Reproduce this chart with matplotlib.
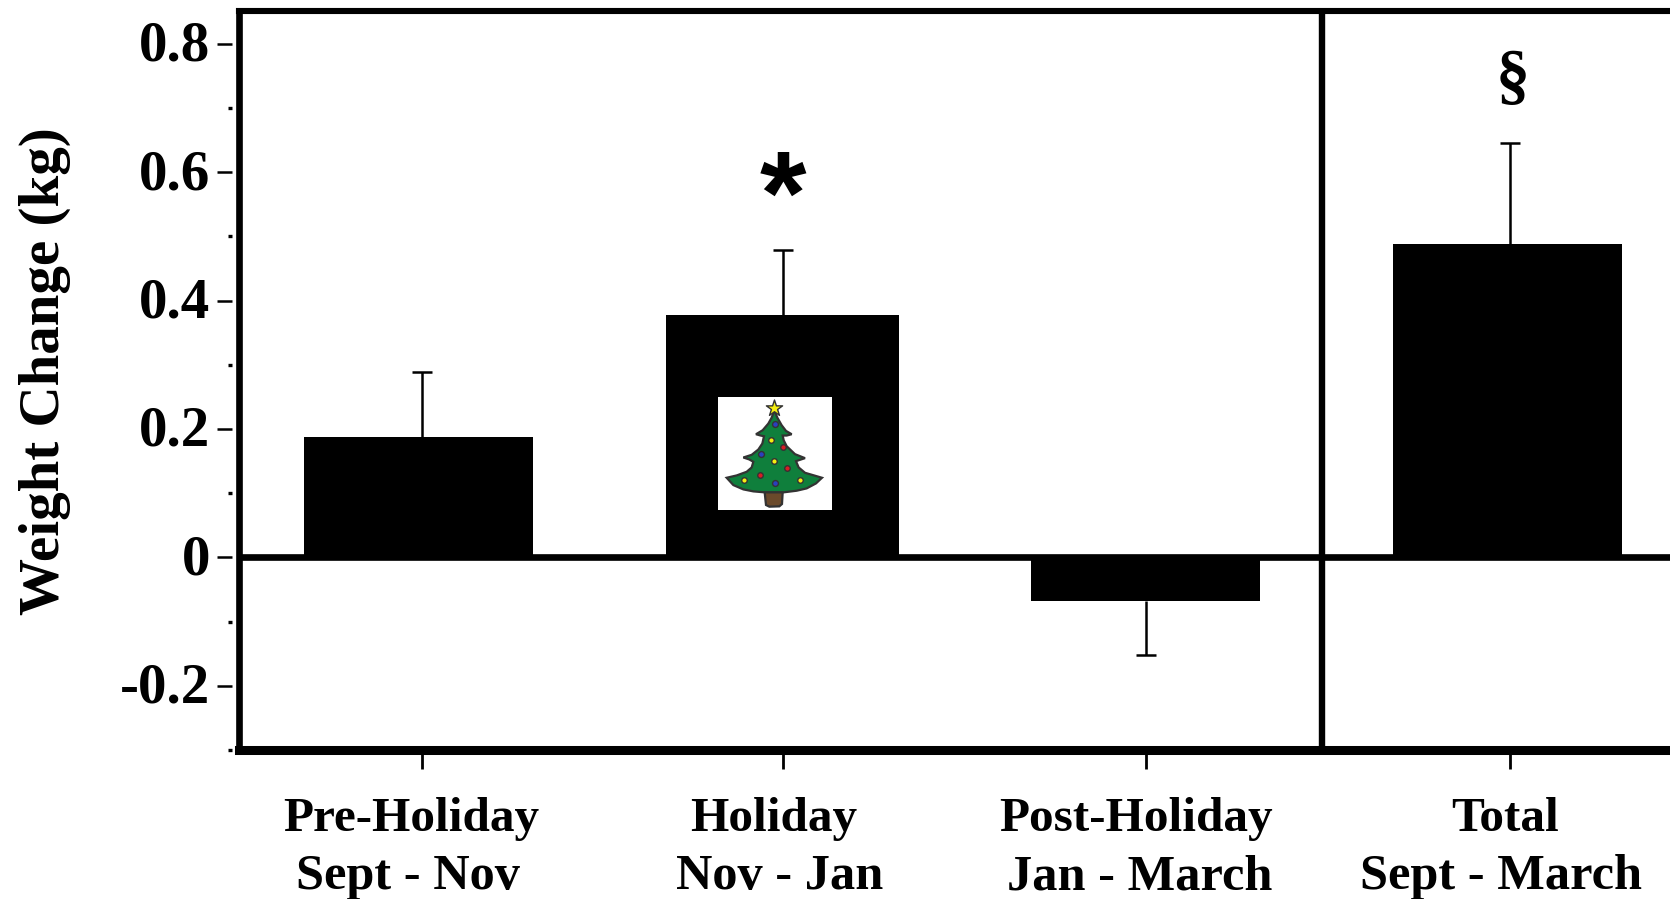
import matplotlib
matplotlib.use("Agg")
import matplotlib.pyplot as plt
from matplotlib.transforms import ScaledTranslation, blended_transform_factory

plt.rcParams["font.family"] = ["Liberation Serif", "DejaVu Serif"]
plt.rcParams["font.weight"] = "bold"

# Data
names = ["Pre-Holiday", "Holiday", "Post-Holiday", "Total"]
months = ["Sept - Nov", "Nov - Jan", "Jan - March", "Sept - March"]
tick_x = [1, 1.995, 2.997, 4]
bar_x = [0.99, 1.995, 2.996, 3.994]
bar_w = [0.633, 0.643, 0.633, 0.633]
name_x = [0.97, 1.97, 2.97, 3.988]
month_x = [0.961, 1.986, 2.98, 3.975]
change = [0.187, 0.377, -0.068, 0.488]
err_up = [0.102, 0.101, 0.157]
err_down = [0.084]
y_ticks = [-0.2, 0, 0.2, 0.4, 0.6, 0.8]
y_labels = ["-0.2", "0", "0.2", "0.4", "0.6", "0.8"]
y_minor = [-0.3, -0.1, 0.1, 0.3, 0.5, 0.7]

# Christmas tree (zoomed pixel units)
tree_x = [253, 262, 275, 288, 305, 290, 278, 281, 290, 315, 345, 327, 318, 326, 345, 396, 378, 350, 320, 280, 225,
          190, 160, 130, 110, 140, 170, 185, 190, 178, 160, 185, 205, 217, 222, 212, 198, 218, 235, 245, 253]
tree_y = [90, 112, 135, 152, 162, 166, 166, 180, 198, 222, 234, 240, 243, 262, 278, 293, 310, 325, 332, 337, 337,
          334, 328, 315, 293, 286, 275, 262, 245, 238, 232, 224, 208, 190, 168, 166, 162, 150, 130, 112, 90]
trunk_x = [224, 278, 276, 268, 238, 228, 224]
trunk_y = [337, 337, 372, 379, 380, 375, 337]
yellow_x = [243, 253, 161, 329]
yellow_y = [178, 244, 299, 299]
red_x = [280, 291, 209]
red_y = [199, 264, 284]
blue_x = [254, 214, 255]
blue_y = [130, 221, 310]

fig = plt.figure(figsize=(16.7, 8.99), dpi=100)
ax = fig.add_axes([239 / 1670, 149 / 899, 1431 / 1670, 739 / 899])

ax.bar(bar_x, change, width=bar_w, color="black", zorder=2)

# upper whiskers for the gains, lower one for the loss
up_x = [tick_x[0], tick_x[1], tick_x[3]]
up_y = [change[0], change[1], change[3]]
_, caps, _ = ax.errorbar(up_x, up_y, yerr=[[0, 0, 0], err_up], fmt="none", ecolor="black",
                         elinewidth=1.8, capsize=7.5, capthick=1.8, zorder=1)
caps[0].set_visible(False)
_, caps, _ = ax.errorbar([tick_x[2]], [change[2]], yerr=[err_down, [0]], fmt="none", ecolor="black",
                         elinewidth=1.8, capsize=7.5, capthick=1.8, zorder=1)
caps[1].set_visible(False)

ax.set_xlim(0.495, 4.442)
ax.set_ylim(-0.298, 0.851)

ax.axhline(0, color="black", lw=4.8, zorder=3)
ax.axvline(3.482, color="black", lw=4.6, zorder=3)

# frame
ax.spines["right"].set_visible(False)
ax.spines["left"].set_visible(False)
ax.spines["top"].set_linewidth(4.4)
ax.spines["bottom"].set_linewidth(6.5)
ax.axvline(0.495, color="black", lw=4.8, zorder=3, clip_on=False)
ax.spines["left"].set_position(("outward", 5))

ax.set_yticks(y_ticks)
ax.set_yticklabels(y_labels)
ax.set_yticks(y_minor, minor=True)
ax.tick_params(axis="y", which="major", length=10.8, width=1.8, labelsize=41, pad=5)
ax.tick_params(axis="y", which="minor", length=2.9, width=2.4)
up_shift = ScaledTranslation(0, 3 / 100, fig.dpi_scale_trans)
for lab in ax.get_yticklabels():
    lab.set_transform(lab.get_transform() + up_shift)

ax.set_xticks(tick_x)
ax.set_xticklabels([])
ax.tick_params(axis="x", which="major", length=14, width=2)

trans = blended_transform_factory(ax.transData, ax.transAxes)
for x, lab in zip(name_x, names):
    ax.text(x, -0.094, lab, transform=trans, ha="center", va="center", fontsize=35.5)
for x, lab in zip(month_x, months):
    ax.text(x, -0.172, lab, transform=trans, ha="center", va="center", fontsize=36.3)

fig.text(45 / 1670, 1 - 371 / 899, "Weight Change (kg)", rotation=90, ha="center", va="center", fontsize=41)

ax.text(1.995, 0.552, "*", ha="center", va="center", fontsize=86, family="Liberation Sans")
ax.text(4.007, 0.742, "§", ha="center", va="center", fontsize=49)

# tree picture on the Holiday bar
tree_ax = fig.add_axes([718 / 1670, 1 - 510 / 899, 114 / 1670, 113 / 899], zorder=5)
tree_ax.set_xlim(84, 426)
tree_ax.set_ylim(390, 50)
tree_ax.set_xticks([])
tree_ax.set_yticks([])
for s in tree_ax.spines.values():
    s.set_visible(False)
tree_ax.fill(tree_x, tree_y, facecolor="#0f7f3c", edgecolor="#333333", lw=1.6)
tree_ax.fill(trunk_x, trunk_y, facecolor="#6b4a2b", edgecolor="#333333", lw=1.6)
tree_ax.scatter(yellow_x, yellow_y, s=16, c="#f5ee10", edgecolors="#333333", linewidths=1, zorder=3)
tree_ax.scatter(red_x, red_y, s=16, c="#d81c24", edgecolors="#333333", linewidths=1, zorder=3)
tree_ax.scatter(blue_x, blue_y, s=18, c="#2a3fc0", edgecolors="#333333", linewidths=1, zorder=3)
tree_ax.scatter([253], [83], s=150, marker="*", c="#f5ee10", edgecolors="#333333", linewidths=1, zorder=4)

fig.savefig("out.png", dpi=100)
